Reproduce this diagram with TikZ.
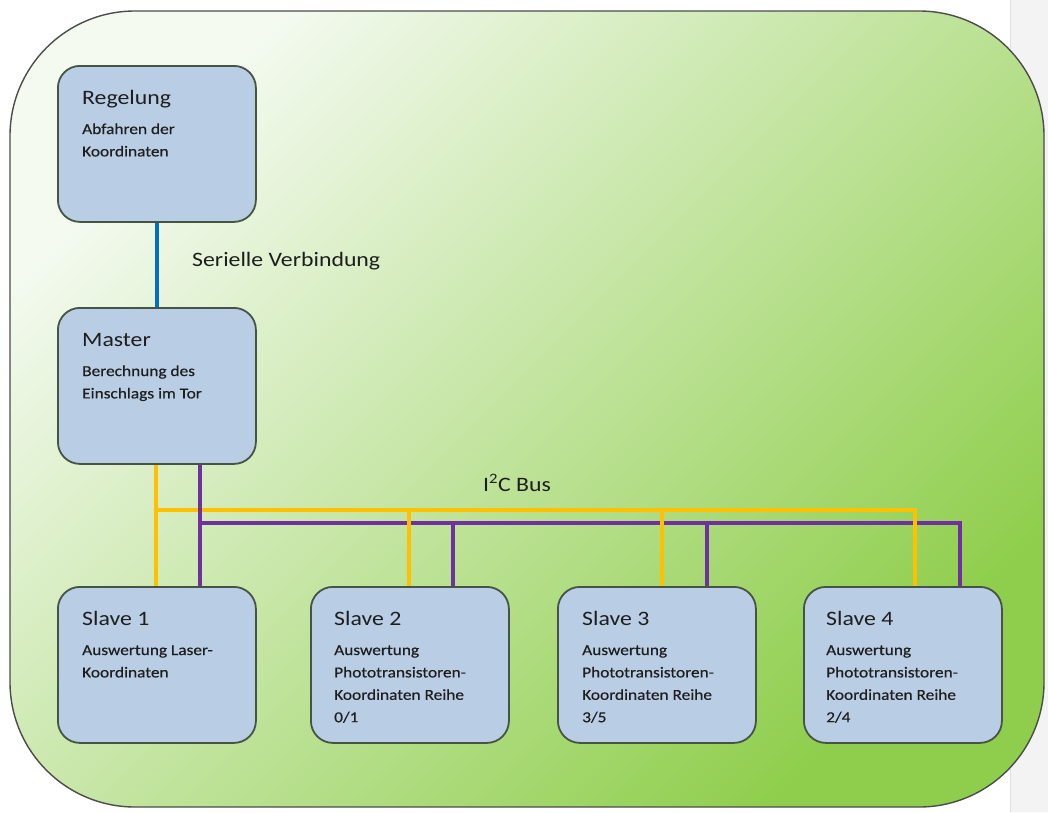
\documentclass[tikz,border=0pt]{standalone}
\usepackage{fontspec}
\setmainfont{Carlito}[FakeStretch=1.16]
\newfontfamily\bodyfont{Carlito}[FakeStretch=1.14, FakeBold=0.35]
\usetikzlibrary{calc}
\definecolor{boxfill}{HTML}{B9CDE5}
\definecolor{boxline}{HTML}{465446}
\definecolor{txt}{HTML}{1E1E1E}
\definecolor{gtop}{HTML}{F4FAF0}
\definecolor{gmid}{HTML}{C8E7B2}
\definecolor{gbot}{HTML}{8FCE4C}
\definecolor{ybus}{HTML}{FFC000}
\definecolor{pbus}{HTML}{7030A0}
\definecolor{sline}{HTML}{0070C0}
\definecolor{strip}{HTML}{F3F3F3}
\tikzset{
  unit/.style={draw=boxline, line width=1.8pt, fill=boxfill, rounded corners=22pt,
    minimum width=198pt, minimum height=156pt, anchor=north west, inner sep=0pt},
  ttl/.style={anchor=base west, inner sep=0pt, text=txt, font=\fontsize{20.5}{24}\selectfont},
  body/.style={anchor=base west, inner sep=0pt, text=txt, align=left,
    font=\bodyfont\fontsize{15.2}{22.4}\selectfont},
  lbl/.style={anchor=base west, inner sep=0pt, text=txt, font=\fontsize{20.5}{24}\selectfont},
  ywire/.style={draw=ybus, line width=4pt},
  pwire/.style={draw=pbus, line width=4pt},
  swire/.style={draw=sline, line width=4pt}
}
\begin{document}
\begin{tikzpicture}[x=1pt,y=-1pt]
\useasboundingbox (0,0) rectangle (1048,812);
\fill[white] (0,0) rectangle (1048,812);
\fill[strip] (1010,0) rectangle (1048,812);
\draw[black!12, line width=0.6pt] (1010,0) -- (1010,812);
\shade[top color=gtop, middle color=gmid, bottom color=gbot, shading angle=45, rounded corners=125pt]
  (10,11) rectangle (1044,807);
\draw[black!70, line width=1.4pt, rounded corners=125pt] (10,11) rectangle (1044,807);

% boxes
\node[unit] (reg) at (57,65) {};
\node[unit] (mas) at (57,307) {};
\node[unit] (s1) at (57,586) {};
\node[unit] (s2) at (310,586) {};
\node[unit] (s3) at (557,586) {};
\node[unit] (s4) at (803,586) {};

% connectors
\coordinate (ya) at ($(mas.south west)+(99,0)$);
\coordinate (pa) at ($(mas.south west)+(143,0)$);
\coordinate (yb) at ($(ya)+(0,45)$);
\coordinate (pb) at ($(pa)+(0,58)$);
\coordinate (y2) at ($(s2.north west)+(99,0)$);
\coordinate (y3) at ($(s3.north west)+(105,0)$);
\coordinate (y4) at ($(s4.north west)+(112,0)$);
\coordinate (p2) at ($(s2.north west)+(143,0)$);
\coordinate (p3) at ($(s3.north west)+(150,0)$);
\coordinate (p4) at ($(s4.north west)+(157,0)$);

\draw[swire] (reg.south) -- (mas.north);

\draw[pwire] (pb) -| (p2);
\draw[pwire] (p2 |- pb) -| (p3);
\draw[pwire] (p3 |- pb) -| (p4);
\draw[ywire] (ya) -- (ya |- s1.north);
\draw[ywire] (yb) -| (y2);
\draw[ywire] (y2 |- yb) -| (y3);
\draw[ywire] (y3 |- yb) -| (y4);
\draw[pwire] (pa) -- (pa |- s1.north);

% texts (body nodes: base = last line baseline)
\node[ttl] (regt) at ($(reg.north west)+(25,39)$) {Regelung};
\node[body] (regb) at ($(reg.north west)+(25,91.4)$) {Abfahren der\\Koordinaten};
\node[ttl] (mast) at ($(mas.north west)+(25,39)$) {Master};
\node[body] (masb) at ($(mas.north west)+(25,91.4)$) {Berechnung des\\Einschlags im Tor};
\node[ttl] (s1t) at ($(s1.north west)+(25,39)$) {Slave 1};
\node[body] (s1b) at ($(s1.north west)+(25,91.4)$) {Auswertung Laser-\\Koordinaten};
\node[ttl] (s2t) at ($(s2.north west)+(24,39)$) {Slave 2};
\node[body] (s2b) at ($(s2.north west)+(24,136.2)$) {Auswertung\\Phototransistoren-\\Koordinaten Reihe\\0/1};
\node[ttl] (s3t) at ($(s3.north west)+(25,39)$) {Slave 3};
\node[body] (s3b) at ($(s3.north west)+(25,136.2)$) {Auswertung\\Phototransistoren-\\Koordinaten Reihe\\3/5};
\node[ttl] (s4t) at ($(s4.north west)+(23,39)$) {Slave 4};
\node[body] (s4b) at ($(s4.north west)+(23,136.2)$) {Auswertung\\Phototransistoren-\\Koordinaten Reihe\\2/4};

\node[lbl] (ser) at (192,266) {Serielle Verbindung};
\node[lbl] (i2c) at (483,491) {I\textsuperscript{2}C Bus};
\end{tikzpicture}
\end{document}
